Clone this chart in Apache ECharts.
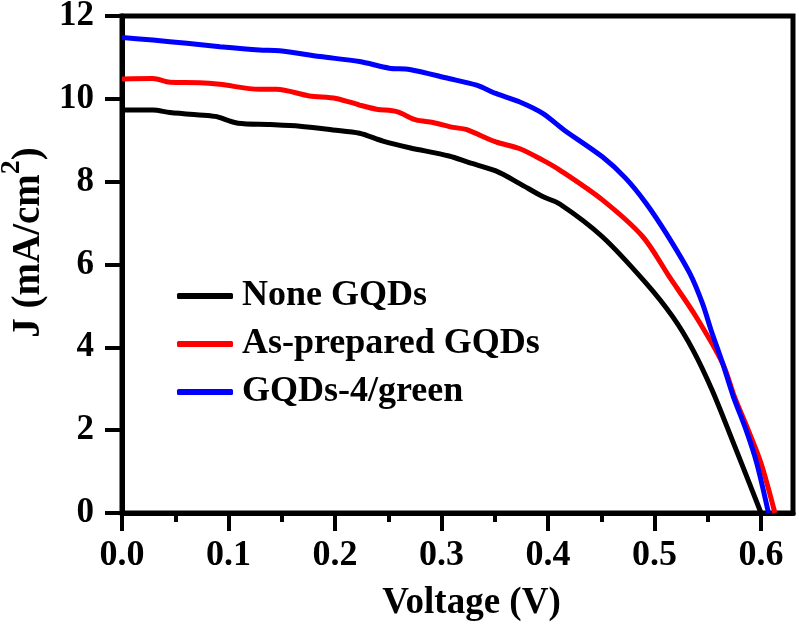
<!DOCTYPE html>
<html><head><meta charset="utf-8">
<script src="https://cdn.jsdelivr.net/npm/echarts@6/dist/echarts.min.js"></script>
<style>html,body{margin:0;padding:0;background:#fff}#c{width:799px;height:632px}</style>
</head><body><div id="c"></div>
<script>
const seriesNames = ['None GQDs', 'As-prepared GQDs', 'GQDs-4/green'];
const seriesColors = ['#000000', '#ff0000', '#0000ff'];

const vNone = [0, 0.029, 0.045, 0.083, 0.089, 0.109, 0.139, 0.167, 0.198, 0.223, 0.245, 0.27, 0.307, 0.326, 0.351, 0.373, 0.395, 0.411, 0.451, 0.492, 0.517, 0.536, 0.554, 0.573, 0.589, 0.600];
const jNone = [9.73, 9.73, 9.67, 9.59, 9.57, 9.41, 9.38, 9.34, 9.25, 9.17, 8.98, 8.82, 8.62, 8.46, 8.26, 7.96, 7.64, 7.46, 6.67, 5.55, 4.74, 3.94, 2.97, 1.76, 0.72, 0];

const vAsPrep = [0, 0.029, 0.045, 0.073, 0.092, 0.129, 0.145, 0.176, 0.201, 0.223, 0.239, 0.258, 0.276, 0.292, 0.311, 0.323, 0.351, 0.373, 0.395, 0.411, 0.451, 0.489, 0.514, 0.539, 0.564, 0.575, 0.588, 0.600, 0.613];
const jAsPrep = [10.48, 10.49, 10.40, 10.39, 10.35, 10.23, 10.23, 10.07, 10.01, 9.85, 9.75, 9.69, 9.49, 9.43, 9.31, 9.26, 8.96, 8.80, 8.52, 8.28, 7.56, 6.67, 5.70, 4.74, 3.61, 2.81, 2.00, 1.20, 0];

const vGreen = [0, 0.029, 0.061, 0.092, 0.129, 0.148, 0.186, 0.223, 0.251, 0.270, 0.307, 0.333, 0.351, 0.373, 0.395, 0.415, 0.451, 0.473, 0.492, 0.511, 0.533, 0.545, 0.553, 0.564, 0.574, 0.586, 0.596, 0.607];
const jGreen = [11.48, 11.42, 11.34, 11.26, 11.18, 11.16, 11.02, 10.90, 10.74, 10.71, 10.49, 10.33, 10.13, 9.93, 9.65, 9.25, 8.60, 8.08, 7.48, 6.75, 5.79, 5.06, 4.42, 3.61, 2.81, 2.00, 1.20, 0];

const xTicks = [0, 0.1, 0.2, 0.3, 0.4, 0.5, 0.6];
const xMinorTicks = [0.05, 0.15, 0.25, 0.35, 0.45, 0.55];

const FONT = '"Liberation Serif", "Times New Roman", Times, serif';
const txt = (size) => ({ fontFamily: FONT, fontWeight: 'bold', fontSize: size, color: '#000' });

const toPairs = (vs, js) => vs.map((v, i) => [v, js[i]]);
const allData = [toPairs(vNone, jNone), toPairs(vAsPrep, jAsPrep), toPairs(vGreen, jGreen)];

const chart = echarts.init(document.getElementById('c'), null, { renderer: 'canvas' });
chart.setOption({
  animation: false,
  backgroundColor: '#ffffff',
  grid: { left: 122, right: 6, top: 16, bottom: 119, outerBoundsMode: 'none', containLabel: false,
          show: true, borderColor: '#000', borderWidth: 5, backgroundColor: 'transparent' },
  legend: {
    orient: 'vertical', left: 177, top: 278, padding: 0, itemWidth: 56, itemHeight: 6, itemGap: 12,
    icon: 'roundRect',
    textStyle: Object.assign(txt(36), { padding: [0, 0, 0, 4] }),
    data: seriesNames.map((n, i) => ({ name: n, itemStyle: { color: seriesColors[i] } }))
  },
  xAxis: [{
    type: 'value', min: 0, max: 0.63, position: 'bottom',
    axisLine: { onZero: false, lineStyle: { color: '#000', width: 5 } },
    axisTick: { inside: false, length: 18, lineStyle: { color: '#000', width: 4 }, customValues: xTicks },
    axisLabel: Object.assign(txt(36), { margin: 25, customValues: xTicks, formatter: (v) => v.toFixed(1) }),
    splitLine: { show: false },
    name: 'Voltage (V)', nameLocation: 'middle', nameGap: 72,
    nameTextStyle: Object.assign(txt(37), { padding: [0, 0, 0, 28] })
  }, {
    type: 'value', min: 0, max: 0.63, position: 'bottom', gridIndex: 0,
    axisLine: { show: false },
    axisTick: { inside: false, length: 9, lineStyle: { color: '#000', width: 4 }, customValues: xMinorTicks },
    axisLabel: { show: false },
    splitLine: { show: false }
  }],
  yAxis: {
    type: 'value', min: 0, max: 12, interval: 2,
    axisLine: { onZero: false, lineStyle: { color: '#000', width: 5 } },
    axisTick: { inside: false, length: 17, lineStyle: { color: '#000', width: 4 } },
    axisLabel: Object.assign(txt(35), { margin: 28 }),
    splitLine: { show: false },
    name: 'J (mA/cm{sup|2})', nameLocation: 'middle', nameGap: 58,
    nameTextStyle: Object.assign(txt(39), {
      padding: [0, 0, 0, 44],
      rich: { sup: Object.assign(txt(28), { padding: [0, 0, 34, 0] }) }
    })
  },
  series: allData.map((d, i) => ({
    name: seriesNames[i], type: 'line', data: d, xAxisIndex: 0,
    symbol: 'none', smooth: 0.3,
    itemStyle: { color: seriesColors[i] },
    lineStyle: { color: seriesColors[i], width: 5 }
  }))
});
</script></body></html>
